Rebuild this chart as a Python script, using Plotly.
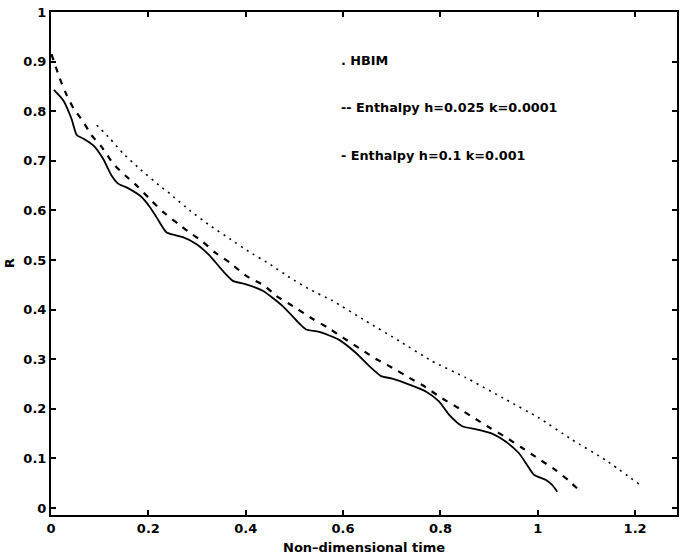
import plotly.graph_objects as go

# Enthalpy h=0.025 k=0.0001 (solid)
solid_t = [0.006, 0.025, 0.042, 0.053, 0.066, 0.087, 0.107, 0.124, 0.138, 0.158, 0.185, 0.203, 0.217,
           0.237, 0.251, 0.271, 0.299, 0.326, 0.353, 0.374, 0.401, 0.435, 0.476, 0.510, 0.524, 0.551,
           0.592, 0.626, 0.654, 0.678, 0.701, 0.736, 0.770, 0.797, 0.818, 0.845, 0.872, 0.906, 0.934,
           0.961, 0.978, 0.992, 1.016, 1.029, 1.040]
solid_r = [0.843, 0.822, 0.785, 0.752, 0.745, 0.731, 0.704, 0.671, 0.654, 0.645, 0.628, 0.607, 0.586,
           0.556, 0.551, 0.546, 0.532, 0.509, 0.478, 0.458, 0.451, 0.438, 0.407, 0.372, 0.360, 0.355,
           0.339, 0.313, 0.286, 0.266, 0.261, 0.249, 0.235, 0.215, 0.188, 0.165, 0.159, 0.150, 0.134,
           0.111, 0.087, 0.067, 0.057, 0.047, 0.033]

# Enthalpy h=0.1 k=0.001 (dashed)
dash_t = [0.001, 0.018, 0.032, 0.046, 0.066, 0.083, 0.104, 0.128, 0.152, 0.176, 0.206, 0.230, 0.261,
          0.288, 0.309, 0.336, 0.367, 0.401, 0.439, 0.462, 0.497, 0.538, 0.568, 0.602, 0.637, 0.667,
          0.701, 0.739, 0.766, 0.802, 0.838, 0.865, 0.903, 0.934, 0.965, 1.002, 1.036, 1.064, 1.091]
dash_r = [0.915, 0.866, 0.833, 0.806, 0.779, 0.752, 0.728, 0.694, 0.671, 0.650, 0.620, 0.597, 0.573,
          0.553, 0.539, 0.516, 0.495, 0.468, 0.448, 0.428, 0.407, 0.381, 0.364, 0.342, 0.320, 0.301,
          0.283, 0.261, 0.246, 0.222, 0.201, 0.184, 0.161, 0.143, 0.123, 0.099, 0.077, 0.055, 0.030]

# HBIM (dotted)
hbim_t = [0.094, 0.121, 0.148, 0.182, 0.223, 0.244, 0.285, 0.326, 0.367, 0.408, 0.449, 0.490, 0.531,
          0.578, 0.647, 0.715, 0.783, 0.852, 0.934, 1.002, 1.070, 1.139, 1.210]
hbim_r = [0.772, 0.745, 0.715, 0.684, 0.650, 0.634, 0.600, 0.570, 0.543, 0.516, 0.492, 0.465, 0.441,
          0.418, 0.377, 0.337, 0.296, 0.263, 0.219, 0.182, 0.138, 0.097, 0.047]

x_ticks = [0, 0.2, 0.4, 0.6, 0.8, 1, 1.2]
x_tick_labels = ["0", "0.2", "0.4", "0.6", "0.8", "1", "1.2"]
y_ticks = [0, 0.1, 0.2, 0.3, 0.4, 0.5, 0.6, 0.7, 0.8, 0.9, 1]
y_tick_labels = ["0", "0.1", "0.2", "0.3", "0.4", "0.5", "0.6", "0.7", "0.8", "0.9", "1"]

legend_texts = [". HBIM", "-- Enthalpy h=0.025 k=0.0001", "- Enthalpy h=0.1 k=0.001"]
legend_y = [0.903, 0.808, 0.711]

fig = go.Figure()
fig.add_trace(go.Scatter(x=solid_t, y=solid_r, mode="lines", name="Enthalpy h=0.025 k=0.0001",
                         line=dict(color="black", width=1.8, shape="spline", smoothing=0.6)))
fig.add_trace(go.Scatter(x=dash_t, y=dash_r, mode="lines", name="Enthalpy h=0.1 k=0.001",
                         line=dict(color="black", width=2.2, dash="6px,7px", shape="spline", smoothing=0.4)))
fig.add_trace(go.Scatter(x=hbim_t, y=hbim_r, mode="lines", name="HBIM",
                         line=dict(color="black", width=1.6, dash="2px,5px", shape="spline", smoothing=0.4)))

font = dict(family="DejaVu Sans, sans-serif", size=13, color="black", weight="bold")

for txt, yy in zip(legend_texts, legend_y):
    fig.add_annotation(x=0.592, y=yy, xref="x", yref="y", text=txt,
                       showarrow=False, xanchor="left", yanchor="middle",
                       font=dict(family="DejaVu Sans, sans-serif", size=12.8, color="black", weight="bold"))

fig.add_annotation(x=0.5, y=-0.0656, xref="paper", yref="paper", text="Non\u2013dimensional time",
                   showarrow=False, xanchor="center", yanchor="middle", font=font)
fig.add_annotation(x=-0.066, y=0.5, xref="paper", yref="paper", text="R", textangle=-90,
                   showarrow=False, xanchor="center", yanchor="middle",
                   font=dict(family="DejaVu Sans, sans-serif", size=13, color="black"))

fig.update_layout(
    width=684, height=556,
    margin=dict(l=51, r=5, t=12, b=41),
    paper_bgcolor="white", plot_bgcolor="white",
    showlegend=False,
    font=font,
    xaxis=dict(range=[0, 1.286], tickvals=x_ticks, ticktext=x_tick_labels,
               ticks="inside", ticklen=5, tickwidth=1.5, tickcolor="black",
               showline=True, linecolor="black", linewidth=2, mirror="ticks",
               showgrid=False, zeroline=False, tickfont=font),
    yaxis=dict(range=[-0.014, 1.0], tickvals=y_ticks, ticktext=y_tick_labels,
               ticks="inside", ticklen=5, tickwidth=1.5, tickcolor="black",
               showline=True, linecolor="black", linewidth=2, mirror="ticks",
               showgrid=False, zeroline=False, tickfont=font),
)

fig.write_html("out.html", config={"displayModeBar": False},
               post_script="document.body.style.margin='0px';")
